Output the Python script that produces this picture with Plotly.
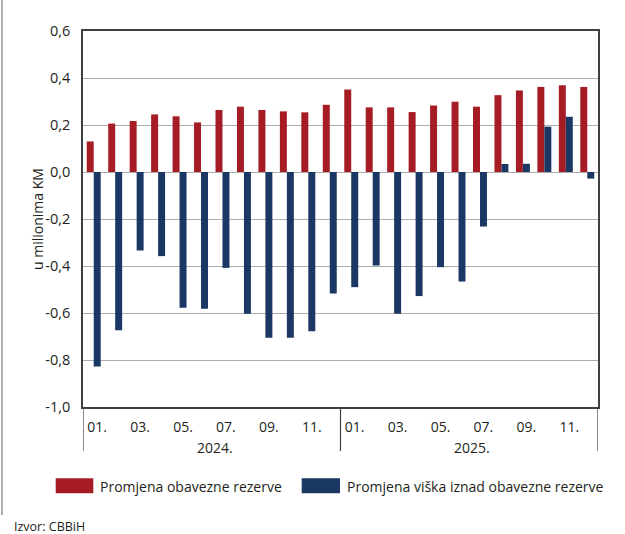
import plotly.graph_objects as go

months = ["01.", "02.", "03.", "04.", "05.", "06.", "07.", "08.", "09.", "10.", "11.", "12."]
years = ["2024.", "2025."]
categories = [f"{m}{y}" for y in years for m in months]

obavezna = [0.130, 0.206, 0.217, 0.245, 0.237, 0.211, 0.264, 0.278, 0.264, 0.258, 0.254, 0.286,
            0.351, 0.275, 0.275, 0.255, 0.283, 0.299, 0.278, 0.327, 0.347, 0.362, 0.369, 0.362]
visak = [-0.828, -0.673, -0.334, -0.358, -0.578, -0.582, -0.408, -0.603, -0.705, -0.705, -0.678, -0.517,
         -0.490, -0.398, -0.603, -0.528, -0.405, -0.466, -0.232, 0.034, 0.035, 0.193, 0.235, -0.028]

series_names = ["Promjena obavezne rezerve", "Promjena viška iznad obavezne rezerve"]
y_ticks = [-1.0, -0.8, -0.6, -0.4, -0.2, 0.0, 0.2, 0.4, 0.6]
y_ticktext = [f"{v:.1f}".replace(".", ",") for v in y_ticks]
y_title = "u milionima KM"
source = "Izvor: CBBiH"

RED = "#A51C24"
BLUE = "#1B3763"
TXT = "#231F20"
FONT = "Open Sans"

W, H = 625, 534
L, R, T, B = 83, 598, 31, 407


def px_x(px):
    return (px - L) / (R - L)


def px_y(py):
    return (B - py) / (B - T)


xs = list(range(len(categories)))

fig = go.Figure()
fig.add_bar(x=xs, y=obavezna, name=series_names[0], marker=dict(color=RED, line=dict(width=0)))
fig.add_bar(x=xs, y=visak, name=series_names[1], marker=dict(color=BLUE, line=dict(width=0)))

tickvals = [i + 0.16 for i in xs if i % 2 == 0]
ticktext = [categories[i][:3] for i in xs if i % 2 == 0]

fig.update_layout(
    width=W, height=H,
    margin=dict(l=L, r=W - R, t=T, b=H - B, pad=0),
    paper_bgcolor="white", plot_bgcolor="white",
    barmode="group", bargap=0.35, bargroupgap=0,
    showlegend=False,
    font=dict(family=FONT, size=14, color=TXT),
)
fig.update_xaxes(
    range=[-0.5, len(categories) - 0.5],
    tickmode="array", tickvals=tickvals, ticktext=ticktext,
    ticks="", showgrid=False, zeroline=False,
    showline=True, linecolor="#404040", linewidth=1.5, mirror=True,
    tickfont=dict(size=14, color=TXT), ticklabelstandoff=6,
)
fig.update_yaxes(
    range=[-1.0, 0.6], tickmode="array", tickvals=y_ticks, ticktext=y_ticktext,
    ticks="", showgrid=True, gridcolor="#ADADAD", gridwidth=1,
    zeroline=True, zerolinecolor="#ADADAD", zerolinewidth=1,
    showline=True, linecolor="#404040", linewidth=1.5, mirror=True,
    tickfont=dict(size=14.5, color=TXT), ticklabelstandoff=8,
)

# y-axis title
fig.add_annotation(text=y_title, xref="paper", yref="paper", x=px_x(37), y=0.5,
                   textangle=-90, showarrow=False, font=dict(size=14, color=TXT),
                   xanchor="center", yanchor="middle")

# year labels and separators below axis
for k, yr in enumerate(years):
    fig.add_annotation(text=yr, xref="x", yref="paper", x=k * 12 + 5.65, y=px_y(447),
                       showarrow=False, font=dict(size=14, color=TXT),
                       xanchor="center", yanchor="middle")
for xv in [-0.5, 11.5, len(categories) - 0.5]:
    fig.add_shape(type="line", xref="x", yref="paper", x0=xv, x1=xv, y0=0, y1=px_y(451),
                  line=dict(color="#404040", width=1.2))

# outer frame left line
fig.add_shape(type="line", xref="paper", yref="paper", x0=px_x(2), x1=px_x(2),
              y0=px_y(0), y1=px_y(515), line=dict(color="#606060", width=1))

# legend
leg = [(55.7, 93.3, 98.3, RED, series_names[0]), (301.7, 340, 345, BLUE, series_names[1])]
for sx0, sx1, tx, col, name in leg:
    fig.add_shape(type="rect", xref="paper", yref="paper", x0=px_x(sx0), x1=px_x(sx1),
                  y0=px_y(478.3), y1=px_y(493.3), fillcolor=col, line=dict(width=0))
    fig.add_annotation(text=name, xref="paper", yref="paper", x=px_x(tx), y=px_y(486.5),
                       showarrow=False, font=dict(size=14, color=TXT),
                       xanchor="left", yanchor="middle")

fig.add_annotation(text=source, xref="paper", yref="paper", x=px_x(12), y=px_y(526.5),
                   showarrow=False, font=dict(size=12.5, color=TXT),
                   xanchor="left", yanchor="middle")

fig.write_html("out.html", config={"displayModeBar": False},
               post_script="document.body.style.margin='0';document.body.style.overflow='hidden';")
